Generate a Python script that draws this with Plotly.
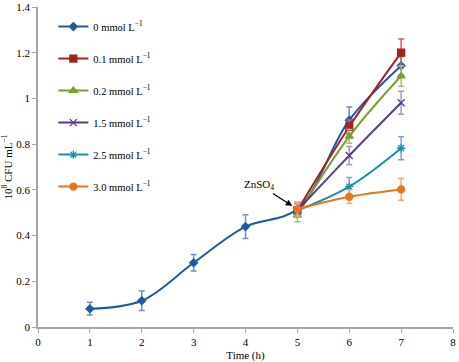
import plotly.graph_objects as go

# ---- data ----
time_all = [1, 2, 3, 4, 5, 6, 7]
time_zn = [5, 6, 7]

series_names = ["0 mmol L<sup>−1</sup>", "0.1 mmol L<sup>−1</sup>", "0.2 mmol L<sup>−1</sup>",
                "1.5 mmol L<sup>−1</sup>", "2.5 mmol L<sup>−1</sup>", "3.0 mmol L<sup>−1</sup>"]

v_0 = [0.080, 0.115, 0.281, 0.439, 0.516, 0.905, 1.143]
e_0 = [0.028, 0.043, 0.036, 0.052, 0.030, 0.058, 0.040]
v_01 = [0.510, 0.876, 1.200]
e_01 = [0.030, 0.030, 0.060]
v_02 = [0.490, 0.834, 1.098]
e_02 = [0.030, 0.030, 0.045]
v_15 = [0.510, 0.750, 0.981]
e_15 = [0.030, 0.040, 0.050]
v_25 = [0.510, 0.614, 0.782]
e_25 = [0.030, 0.040, 0.050]
v_30 = [0.516, 0.570, 0.602]
e_30 = [0.030, 0.030, 0.048]

line_colors = ["#1f5aa6", "#a5231f", "#77a030", "#5a3a8a", "#1b8fa6", "#e8751e"]
err_colors = ["#6f90c4", "#e05a5a", "#a2c26a", "#a597c4", "#76a6d8", "#f7aa66"]
symbols = ["diamond", "square", "triangle-up", "x-thin", "asterisk", "circle"]
sizes = [6, 7, 7, 7, 7, 7]

xs = [time_all, time_zn, time_zn, time_zn, time_zn, time_zn]
ys = [v_0, v_01, v_02, v_15, v_25, v_30]
es = [e_0, e_01, e_02, e_15, e_25, e_30]

FONT = "Liberation Serif"

fig = go.Figure()
for i in range(6):
    fig.add_trace(go.Scatter(
        x=xs[i], y=ys[i], name=series_names[i], legendgroup=f"g{i}",
        mode="lines+markers",
        line=dict(color=line_colors[i], width=2, shape="spline", smoothing=1.0),
        marker=dict(symbol=symbols[i], size=sizes[i], color=line_colors[i],
                    line=dict(color=line_colors[i], width=1.3)),
        error_y=dict(type="data", array=es[i], visible=True, color=err_colors[i],
                     thickness=1.5, width=3),
    ))

fig.add_annotation(x=5, y=0.516, text="ZnSO<sub>4</sub>", showarrow=True,
                   ax=-38, ay=-24, arrowhead=2, arrowsize=1, arrowwidth=1.3,
                   arrowcolor="black", standoff=6,
                   font=dict(family=FONT, size=11, color="black"))

axis_common = dict(showgrid=False, zeroline=False, showline=True, linecolor="#a6a6a6",
                   linewidth=1.5, ticks="outside", tickcolor="#a6a6a6", ticklen=4,
                   automargin=False,
                   tickfont=dict(family=FONT, size=11, color="black"))

fig.update_xaxes(range=[0, 8], dtick=1, tick0=0,
                 title=dict(text="Time (h)", font=dict(family=FONT, size=11, color="black"), standoff=4),
                 **axis_common)
fig.update_yaxes(range=[0, 1.4], dtick=0.2, tick0=0,
                 title=dict(text="10<sup>8</sup> CFU mL<sup>−1</sup>", font=dict(family=FONT, size=11, color="black"), standoff=6),
                 **axis_common)

fig.update_layout(
    width=459, height=362,
    margin=dict(l=38, r=6, t=7, b=35, autoexpand=False),
    paper_bgcolor="white", plot_bgcolor="white",
    font=dict(family=FONT, size=11, color="black"),
    legend=dict(x=0.037, y=0.984, xanchor="left", yanchor="top",
                font=dict(family=FONT, size=10.5, color="black"),
                bgcolor="rgba(0,0,0,0)", tracegroupgap=13, itemwidth=30),
    showlegend=True,
)

fig.write_html("out.html", config={"displayModeBar": False},
               post_script="document.body.style.margin='0';document.body.style.overflow='hidden';")
